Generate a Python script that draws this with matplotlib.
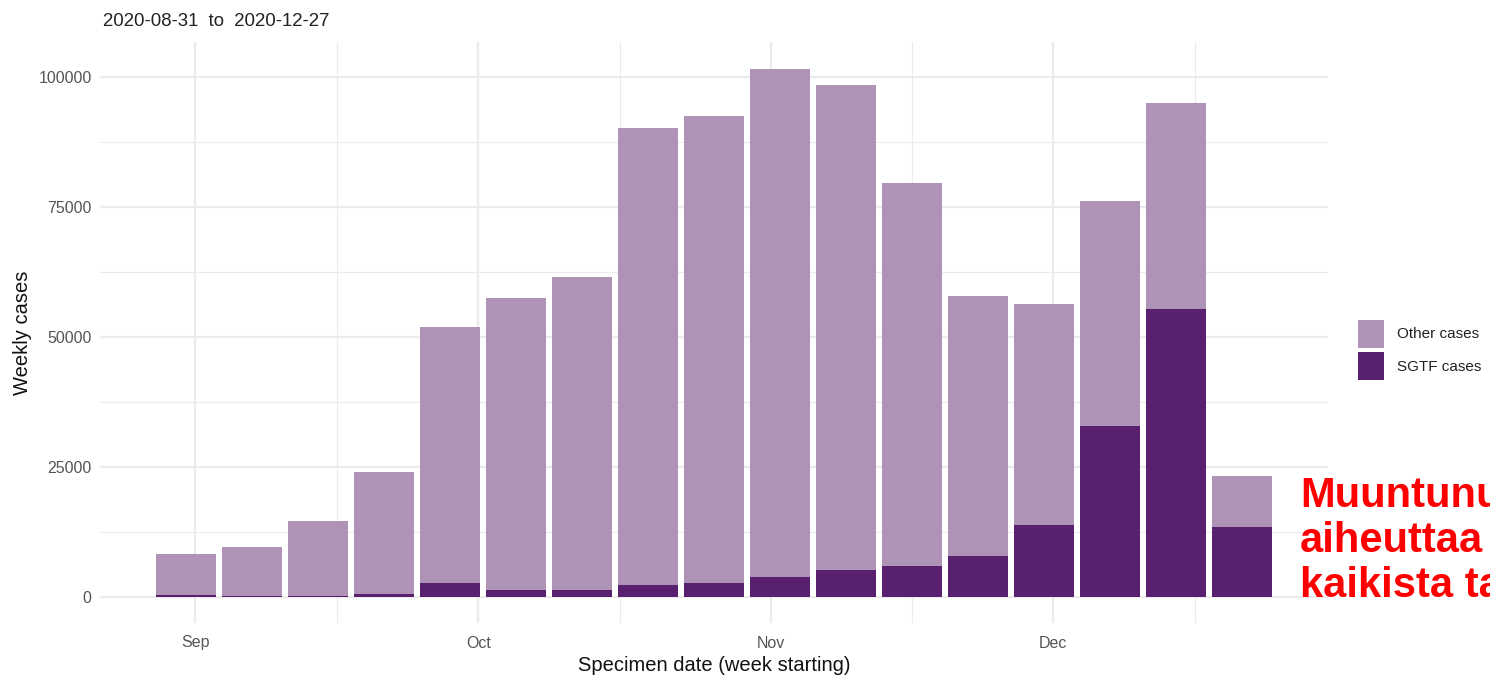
import numpy as np
import matplotlib
matplotlib.use("Agg")
import matplotlib.pyplot as plt
import matplotlib.dates as mdates
from matplotlib.ticker import MultipleLocator

plt.rcParams['font.family'] = ['Liberation Sans', 'DejaVu Sans']

# weekly data
weeks = ["2020-08-31", "2020-09-07", "2020-09-14", "2020-09-21", "2020-09-28",
         "2020-10-05", "2020-10-12", "2020-10-19", "2020-10-26", "2020-11-02",
         "2020-11-09", "2020-11-16", "2020-11-23", "2020-11-30", "2020-12-07",
         "2020-12-14", "2020-12-21"]
total_cases = [8300, 9600, 14600, 24000, 51900, 57500, 61500, 90200, 92500,
               101500, 98500, 79600, 57900, 56300, 76200, 95000, 23300]
sgtf_cases = [400, 200, 100, 500, 2700, 1350, 1350, 2300, 2700, 3850, 5200,
              6000, 7900, 13800, 32900, 55400, 13400]
other_cases = [t - s for t, s in zip(total_cases, sgtf_cases)]

light = "#ae93b7"
dark = "#5a2070"
grid_col = "#ebebeb"

x = np.array(weeks, dtype="datetime64[D]").astype("O")

fig = plt.figure(figsize=(14.9, 6.79), dpi=100)
ax = fig.add_axes([100 / 1490, 1 - 623 / 679, 1228 / 1490, 581 / 679])

ax.bar(x, sgtf_cases, width=6.3, color=dark, label="SGTF cases", zorder=3)
ax.bar(x, other_cases, width=6.3, bottom=sgtf_cases, color=light,
       label="Other cases", zorder=3)

ax.set_ylim(-5000, 106730)
ax.set_xlim(np.datetime64("2020-08-21T21:00").astype("O"),
            np.datetime64("2020-12-30T03:00").astype("O"))

ax.yaxis.set_major_locator(MultipleLocator(25000))
ax.yaxis.set_minor_locator(MultipleLocator(12500))
ax.xaxis.set_major_locator(mdates.MonthLocator())
ax.xaxis.set_minor_locator(mdates.DayLocator(bymonthday=16))
ax.xaxis.set_major_formatter(mdates.DateFormatter("%b"))

ax.grid(which="major", color=grid_col, linewidth=1.6, zorder=0)
ax.grid(which="minor", color=grid_col, linewidth=0.8, zorder=0)
for s in ax.spines.values():
    s.set_visible(False)
ax.tick_params(which="both", length=0)
ax.tick_params(axis="y", labelsize=11.5, labelcolor="#555555", pad=6)
ax.tick_params(axis="x", labelsize=11.5, labelcolor="#555555", pad=9)

ax.set_ylabel("Weekly cases", fontsize=14.5, color="#111111")
ax.yaxis.set_label_coords(-0.0635, 0.5)
ax.yaxis.label.set_va("center")
ax.set_xlabel("Specimen date (week starting)", fontsize=14.5, color="#111111")
ax.xaxis.set_label_coords(0.5, -0.074)
ax.xaxis.label.set_va("center")

fig.text(103 / 1490, 1 - 21 / 679, "2020-08-31  to  2020-12-27",
         fontsize=13.4, color="#222222", va="center", ha="left")

handles, labels = ax.get_legend_handles_labels()
leg = fig.legend(handles[::-1], labels[::-1], loc="center left",
                 bbox_to_anchor=(1344 / 1490, 1 - 350 / 679), frameon=False,
                 fontsize=11, handlelength=1.75, handleheight=2.45,
                 labelspacing=0.3, handletextpad=0.8)
for t in leg.get_texts():
    t.set_color("#222222")

fig.text(1300 / 1490, 1 - 541 / 679, "Muuntunut\naiheuttaa\nkaikista ta",
         fontsize=30, fontweight="bold", color="#ff0000", ha="left",
         va="center", linespacing=1.17)

fig.savefig("out.png", dpi=100)
